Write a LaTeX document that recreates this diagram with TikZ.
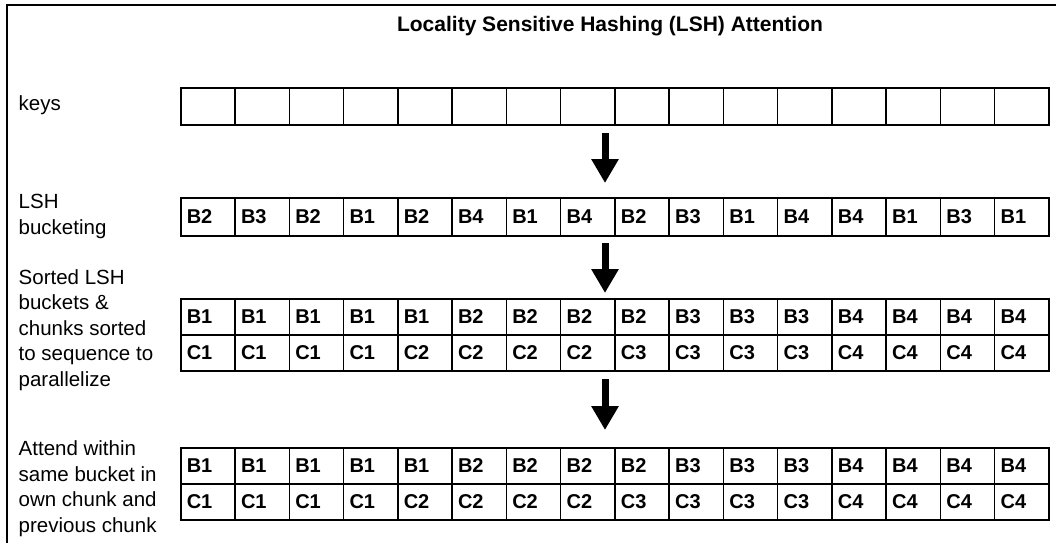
\documentclass[tikz,border=0pt]{standalone}
\usepackage{fontspec}
\setmainfont{Liberation Sans}
\usetikzlibrary{arrows.meta}
\tikzset{
  cell/.style={draw=black, line width=1.6pt, minimum width=54.25pt, minimum height=#1,
    text width=42.25pt, inner xsep=6pt, inner ysep=0pt, align=left, anchor=north west,
    font=\bfseries\fontsize{20}{24}\selectfont},
  cell/.default=37pt,
  lbl/.style={anchor=base west, inner sep=0pt, align=left, font=\fontsize{20.5}{25.5}\selectfont},
  bigarrow/.style={line width=7pt, -{Triangle[width=26pt,length=24pt]}},
  frame/.style={line width=2pt, black}
}
\begin{document}
\begin{tikzpicture}[x=1pt,y=-1pt]
\useasboundingbox (0,0) rectangle (1056,543);
\draw[frame] (7,543) -- (7,5) -- (1056,5);
\node[anchor=base, inner sep=0pt, font=\bfseries\fontsize{21}{25}\selectfont] (title) at (610,32) {Locality Sensitive Hashing (LSH) Attention};
% labels (base anchor = baseline of last line)
\node[lbl] (lkeys) at (18.5,110) {keys};
\node[lbl] (llsh) at (18.5,234) {LSH\\bucketing};
\node[lbl] (lsort) at (18.5,386) {Sorted LSH\\buckets \&\\chunks sorted\\to sequence to\\parallelize};
\node[lbl] (latt) at (18.5,532) {Attend within\\same bucket in\\own chunk and\\previous chunk};
% keys row
\foreach \i in {1,...,16} {
  \node[cell=37pt] (k\i) at ({180+(\i-1)*54.25},87) {};
}
% LSH bucketing row
\foreach \t [count=\i] in {B2,B3,B2,B1,B2,B4,B1,B4,B2,B3,B1,B4,B4,B1,B3,B1} {
  \node[cell=38pt] (b\i) at ({180+(\i-1)*54.25},197) {\t};
}
% sorted rows
\foreach \t [count=\i] in {B1,B1,B1,B1,B1,B2,B2,B2,B2,B3,B3,B3,B4,B4,B4,B4} {
  \node[cell=36pt] (s\i) at ({180+(\i-1)*54.25},298) {\t};
  \node[cell=36pt] (a\i) at ({180+(\i-1)*54.25},447) {\t};
}
\foreach \t [count=\i] in {C1,C1,C1,C1,C2,C2,C2,C2,C3,C3,C3,C3,C4,C4,C4,C4} {
  \node[cell=36pt] (t\i) at ({180+(\i-1)*54.25},334) {\t};
  \node[cell=36pt] (d\i) at ({180+(\i-1)*54.25},483) {\t};
}
% arrows
\coordinate (ar1s) at (605,133); \coordinate (ar1e) at (605,183);
\coordinate (ar2s) at (605,243); \coordinate (ar2e) at (605,293);
\coordinate (ar3s) at (605,379); \coordinate (ar3e) at (605,430);
\draw[bigarrow] (ar1s) -- (ar1e);
\draw[bigarrow] (ar2s) -- (ar2e);
\draw[bigarrow] (ar3s) -- (ar3e);
\end{tikzpicture}
\end{document}
